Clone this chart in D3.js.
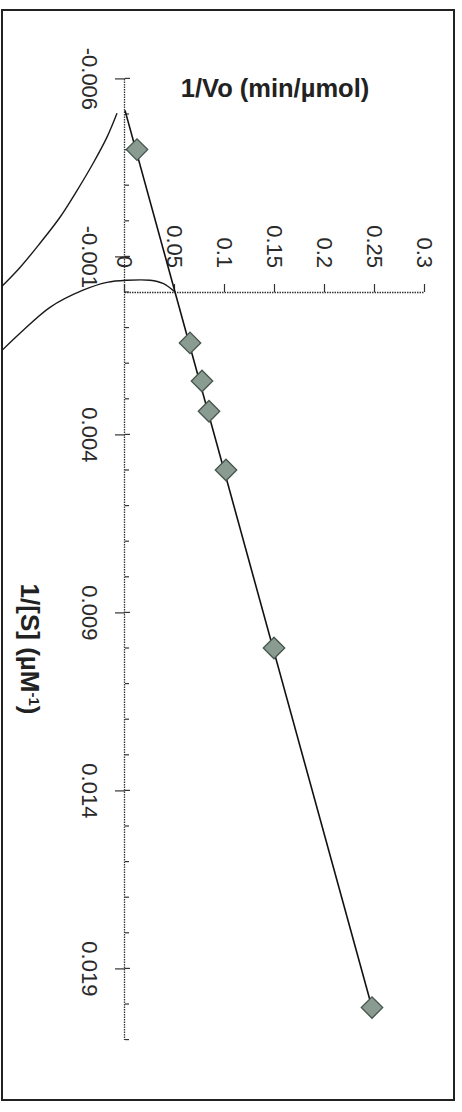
<!DOCTYPE html>
<html>
<head>
<meta charset="utf-8">
<script src="https://cdn.jsdelivr.net/npm/d3@7"></script>
<style>
  body { margin: 0; background: #fff; }
  svg { display: block; }
  text { font-family: "Liberation Sans", Arial, sans-serif; }
</style>
</head>
<body>
<svg id="plot"></svg>
<script>
// Lineweaver-Burk data (1/[S] in uM^-1, 1/Vo in min/umol)
const invS = [-0.004, 0.00143, 0.0025, 0.00335, 0.005, 0.01, 0.0201];
const invV = [0.012, 0.065, 0.077, 0.084, 0.101, 0.149, 0.247];

// trendline
const trendSlope = 9.8;
const trendIntercept = 0.05;

// axis ticks
const sTicks = [-0.006, -0.001, 0.004, 0.009, 0.014, 0.019];
const sTickLabels = ["-0.006", "-0.001", "0.004", "0.009", "0.014", "0.019"];
const vTicks = [0, 0.05, 0.1, 0.15, 0.2, 0.25, 0.3];
const vTickLabels = ["0", "0.05", "0.1", "0.15", "0.2", "0.25", "0.3"];

// hand-drawn pencil arcs on the scan, in the same data units
const sketchAS = [-0.00502, -0.00435, -0.00361, -0.00285, -0.0021, -0.00137, -0.00069, -0.00005];
const sketchAV = [-0.008, -0.018, -0.032, -0.048, -0.065, -0.085, -0.105, -0.127];
const sketchBS = [0.00175, 0.00116, 0.00043, -0.00005, -0.00027, -0.00033, -0.00033, -0.00024, 0.0];
const sketchBV = [-0.127, -0.105, -0.075, -0.042, -0.018, 0.002, 0.025, 0.038, 0.05];

const W = 462, H = 1112;
const ROT = 460;   // page was scanned turned 90 deg clockwise

const svg = d3.select("#plot").attr("width", W).attr("height", H);

svg.append("defs").append("clipPath").attr("id", "frame")
  .append("rect").attr("x", 2).attr("y", 10).attr("width", 452).attr("height", 1090);

// outer chart border
svg.append("rect")
  .attr("x", 2).attr("y", 10).attr("width", 452).attr("height", 1090)
  .attr("fill", "none").attr("stroke", "#222").attr("stroke-width", 2);

const g = svg.append("g").attr("transform", `translate(${ROT},0) rotate(90)`);

const x = d3.scaleLinear().domain([-0.006, 0.021]).range([78.4, 1039.6]);
const y = d3.scaleLinear().domain([0, 0.3]).range([ROT - 125, ROT - 425]);

// 1/[S] axis (crosses at 1/Vo = 0)
const xAxisG = g.append("g")
  .attr("transform", `translate(0,${y(0)})`)
  .call(d3.axisBottom(x).tickValues(sTicks).tickFormat((d, i) => sTickLabels[i])
    .tickSizeInner(10).tickSizeOuter(0).tickPadding(17));

// minor ticks inside, plus inner half of major ticks
xAxisG.selectAll("line.minor")
  .data(x.ticks(27))
  .join("line")
  .attr("class", "minor")
  .attr("x1", d => x(d)).attr("x2", d => x(d))
  .attr("y1", 0).attr("y2", d => sTicks.some(t => Math.abs(t - d) < 1e-9) ? -5 : -4);

// 1/Vo axis (crosses at 1/[S] = 0)
const yAxisG = g.append("g")
  .attr("transform", `translate(${x(0)},0)`)
  .call(d3.axisLeft(y).tickValues(vTicks).tickFormat((d, i) => vTickLabels[i])
    .tickSizeInner(8).tickSizeOuter(0).tickPadding(16));

g.selectAll(".domain")
  .attr("stroke", "#333").attr("stroke-width", 1.3).attr("stroke-dasharray", "1.5,1");
g.selectAll(".tick line, line.minor")
  .attr("stroke", "#333").attr("stroke-width", 1.2);
g.selectAll(".tick text")
  .attr("font-size", 22).attr("fill", "#2a2a2a")
  .attr("font-family", "'Liberation Sans', Arial, sans-serif");

// pencil arcs
const sketchLine = d3.line().x(d => x(d[0])).y(d => y(d[1])).curve(d3.curveCatmullRom);
const sketchG = svg.append("g").attr("clip-path", "url(#frame)")
  .append("g").attr("transform", `translate(${ROT},0) rotate(90)`);
[[sketchAS, sketchAV], [sketchBS, sketchBV]].forEach(([s, v]) => {
  sketchG.append("path")
    .attr("d", sketchLine(s.map((d, i) => [d, v[i]])))
    .attr("fill", "none").attr("stroke", "#1a1a1a").attr("stroke-width", 1.4);
});

// linear trendline from the x-intercept to the last point
const sStart = -trendIntercept / trendSlope;
const sEnd = d3.max(invS);
g.append("path")
  .attr("d", d3.line().x(d => x(d)).y(d => y(trendIntercept + trendSlope * d))([sStart, sEnd]))
  .attr("fill", "none").attr("stroke", "#111").attr("stroke-width", 1.6);

// data points (diamonds)
const pts = invS.map((s, i) => ({ s: s, v: invV[i] }));
g.selectAll("path.pt")
  .data(pts)
  .join("path")
  .attr("class", "pt")
  .attr("d", d3.symbol(d3.symbolSquare, 230))
  .attr("transform", d => `translate(${x(d.s)},${y(d.v)}) rotate(45)`)
  .attr("fill", "#8a9c92").attr("stroke", "#46554d").attr("stroke-width", 1.3);

// titles
svg.append("text")
  .attr("x", 275).attr("y", 88).attr("dy", "0.35em")
  .attr("text-anchor", "middle").attr("font-size", 25.5).attr("font-weight", "bold")
  .attr("fill", "#222")
  .text("1/Vo (min/µmol)");

const xt = svg.append("text")
  .attr("transform", "translate(30,649) rotate(90)")
  .attr("dy", "0.35em")
  .attr("text-anchor", "middle").attr("font-size", 26).attr("font-weight", "bold")
  .attr("fill", "#222");
xt.append("tspan").text("1/[S] (µM");
xt.append("tspan").attr("baseline-shift", "super").attr("font-size", 15).text("-1");
xt.append("tspan").text(")");
</script>
</body>
</html>
